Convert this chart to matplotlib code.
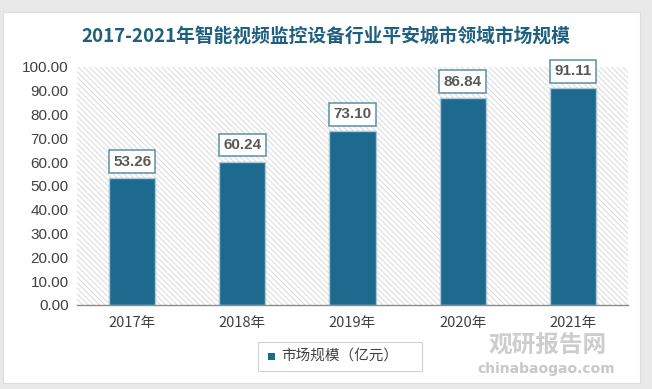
import matplotlib.pyplot as plt
from matplotlib.patches import Rectangle

plt.rcParams['font.family'] = ['Noto Sans CJK SC', 'DejaVu Sans']

years = ['2017年', '2018年', '2019年', '2020年', '2021年']
values = [53.26, 60.24, 73.10, 86.84, 91.11]
yticks = [0, 10, 20, 30, 40, 50, 60, 70, 80, 90, 100]

bar_color = '#1d6a8e'
title_color = '#1f5f80'

fig = plt.figure(figsize=(6.52, 3.89), dpi=100)
fig.patch.set_facecolor('#e9e9e9')

# white card behind everything
card = Rectangle((3 / 652, 1 - 383 / 389), 637 / 652, 371 / 389, transform=fig.transFigure,
                 facecolor='white', edgecolor='#dddddd', linewidth=0.8, zorder=-5)
fig.patches.append(card)

ax = fig.add_axes([77 / 652, 1 - 305 / 389, 551 / 652, 238 / 389])
ax.set_facecolor('none')

# hatched plot background
plt.rcParams['hatch.linewidth'] = 0.7
ax.add_patch(Rectangle((0, 0), 1, 1, transform=ax.transAxes, facecolor='white',
                       edgecolor='#dadada', linewidth=0, hatch='\\\\\\\\\\\\', zorder=0))

x = range(len(years))
ax.bar(x, values, width=0.42, color=bar_color, edgecolor='#a9c7d6', linewidth=1.0, zorder=2)

for i, v in zip(x, values):
    ax.annotate(f'{v:.2f}', (i, v), xytext=(0, 7), textcoords='offset points',
                ha='center', va='bottom', fontsize=11, fontweight='bold', color='#595959',
                family=['Liberation Sans', 'DejaVu Sans'],
                bbox=dict(boxstyle='square,pad=0.28', facecolor='white', edgecolor='#5b8ea8', linewidth=1.1),
                zorder=4)

ax.set_xlim(-0.5, 4.5)
ax.set_ylim(0, 100)
ax.set_yticks(yticks)
ax.set_yticklabels([f'{t:.2f}' for t in yticks], fontsize=11, color='#404040',
                   family=['Liberation Sans', 'DejaVu Sans'])
ax.set_xticks(list(x))
ax.set_xticklabels(years, fontsize=10.5, color='#404040')
ax.tick_params(axis='both', length=0, pad=8)
ax.tick_params(axis='y', pad=6)
for s in ['top', 'right', 'left']:
    ax.spines[s].set_visible(False)
ax.spines['bottom'].set_color('#8c8c8c')
ax.spines['bottom'].set_linewidth(1.0)

fig.text(326 / 652, 1 - 36 / 389, '2017-2021年智能视频监控设备行业平安城市领域市场规模',
         ha='center', va='center', fontsize=13.5, fontweight='bold', color=title_color)

# legend box
fig.patches.append(Rectangle((258 / 652, 1 - 371 / 389), 164 / 652, 29 / 389,
                             transform=fig.transFigure, facecolor='white', edgecolor='#d0d0d0',
                             linewidth=0.8))
fig.patches.append(Rectangle((268 / 652, 1 - 360 / 389), 7 / 652, 7 / 389,
                             transform=fig.transFigure, facecolor=bar_color, edgecolor='none'))
fig.text(281 / 652, 1 - 356 / 389, '市场规模（亿元）', ha='left', va='center', fontsize=10.5, color='#404040')

# watermark
fig.text(548 / 652, 1 - 345 / 389, '观研报告网', ha='center', va='center', fontsize=17,
         fontweight='bold', color='#c8c8c8', alpha=0.9)
fig.text(546 / 652, 1 - 369 / 389, 'chinabaogao.com', ha='center', va='center', fontsize=10,
         fontweight='bold', color='#c8c8c8', family=['DejaVu Sans'])

fig.savefig('out.png', dpi=100)
